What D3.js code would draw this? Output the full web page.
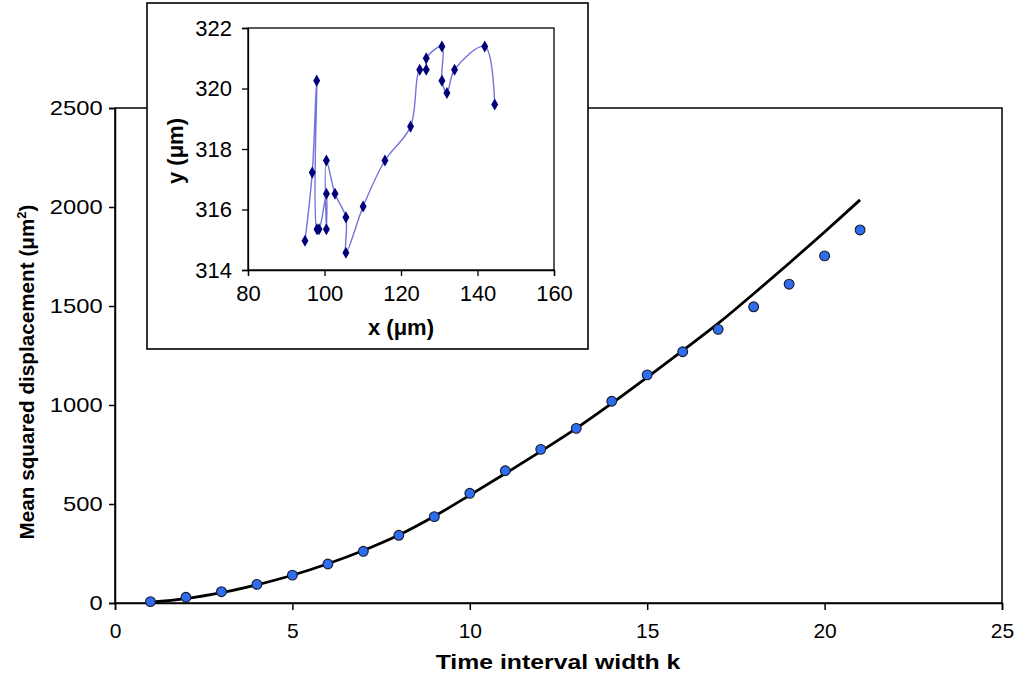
<!DOCTYPE html>
<html>
<head>
<meta charset="utf-8">
<script src="https://cdn.jsdelivr.net/npm/d3@7"></script>
<style>
html,body{margin:0;padding:0;background:#fff;}
svg{display:block;}
text{font-family:"Liberation Sans", Arial, sans-serif;fill:#000;}
</style>
</head>
<body>
<svg id="chart" width="1017" height="675"></svg>
<script>
// ---- Main chart data ----
const kValues = [1,2,3,4,5,6,7,8,9,10,11,12,13,14,15,16,17,18,19,20,21];
const msdObserved = [7,29,57,94,141,197,261,342,436,554,668,776,882,1019,1152,1269,1382,1496,1610,1753,1884];
const msdFit = [4,22,52,92,140,198,265,343,438,545,654,766,882,1008,1140,1275,1412,1562,1716,1874,2036];
const mainXTicks = [0,5,10,15,20,25];
const mainYTicks = [0,500,1000,1500,2000,2500];

// ---- Inset (trajectory) data ----
const trackX = [94.9,96.8,97.96,98.04,98.56,100.5,100.5,100.5,102.75,105.6,105.6,110.1,115.8,122.5,124.9,126.6,126.6,130.7,130.7,132.0,134.0,141.9,144.5];
const trackY = [314.97,317.22,320.26,315.35,315.35,316.52,315.35,317.62,316.52,315.74,314.57,316.1,317.62,318.74,320.62,320.62,321.0,321.39,320.26,319.85,320.62,321.39,319.47];
const insetXTicks = [80,100,120,140,160];
const insetYTicks = [314,316,318,320,322];

const svg = d3.select("#chart");

// ---------- Main plot ----------
const M = {left:115, right:1002, top:108, bottom:603};
const x = d3.scaleLinear().domain([0,25]).range([M.left, M.right]);
const y = d3.scaleLinear().domain([0,2500]).range([M.bottom, M.top]);

const main = svg.append("g");
main.append("rect").attr("x",M.left).attr("y",M.top)
  .attr("width",M.right-M.left).attr("height",M.bottom-M.top)
  .attr("fill","none").attr("stroke","#000").attr("stroke-width",1.5);

const xAxis = main.append("g").attr("transform",`translate(0,${M.bottom})`)
  .call(d3.axisBottom(x).tickValues(mainXTicks).tickSize(7).tickPadding(13).tickFormat(d3.format("d")));
const yAxis = main.append("g").attr("transform",`translate(${M.left},0)`)
  .call(d3.axisLeft(y).tickValues(mainYTicks).tickSize(6).tickPadding(5).tickFormat(d3.format("d")));
[xAxis,yAxis].forEach(a=>{
  a.attr("font-size",21).attr("font-family","Liberation Sans, Arial, sans-serif");
  a.select(".domain").attr("stroke","#000").attr("stroke-width",1.5);
  a.selectAll(".tick line").attr("stroke","#000").attr("stroke-width",1.5);
  a.selectAll(".tick text").attr("fill","#000");
});
yAxis.selectAll(".tick text").attr("transform","scale(1.13,1)");

// fit curve
const fitData = kValues.map((k,i)=>[k,msdFit[i]]);
main.append("path").datum(fitData)
  .attr("fill","none").attr("stroke","#000").attr("stroke-width",2.8)
  .attr("d", d3.line().x(d=>x(d[0])).y(d=>y(d[1])).curve(d3.curveCatmullRom.alpha(0.5)));

// observed points
main.selectAll("circle.obs").data(kValues).join("circle").attr("class","obs")
  .attr("cx",(k)=>x(k)).attr("cy",(k,i)=>y(msdObserved[i]))
  .attr("r",4.9).attr("fill","#2f6df0").attr("stroke","#1a1a2a").attr("stroke-width",1.1);

// axis titles
main.append("text").attr("x",0).attr("y",0).attr("text-anchor","middle")
  .attr("font-size",20).attr("font-weight","bold")
  .attr("transform","translate(558,669) scale(1.24,1)")
  .text("Time interval width k");
const yt = main.append("text").attr("transform","translate(34,372) rotate(-90)")
  .attr("text-anchor","middle").attr("font-size",20.7).attr("font-weight","bold");
yt.append("tspan").text("Mean squared displacement (μm");
yt.append("tspan").attr("font-size",13).attr("dy",-8).text("2");
yt.append("tspan").attr("dy",8).text(")");

// ---------- Inset ----------
const inset = svg.append("g");
inset.append("rect").attr("x",147).attr("y",3).attr("width",441).attr("height",346)
  .attr("fill","#fff").attr("stroke","#000").attr("stroke-width",1.6);

const I = {left:248, right:554, top:28, bottom:270};
const ix = d3.scaleLinear().domain([80,160]).range([I.left,I.right]);
const iy = d3.scaleLinear().domain([314,322]).range([I.bottom,I.top]);

inset.append("rect").attr("x",I.left).attr("y",I.top)
  .attr("width",I.right-I.left).attr("height",I.bottom-I.top)
  .attr("fill","none").attr("stroke","#000").attr("stroke-width",1.3);

const ixAxis = inset.append("g").attr("transform",`translate(0,${I.bottom})`)
  .call(d3.axisBottom(ix).tickValues(insetXTicks).tickSize(6).tickPadding(9).tickFormat(d3.format("d")));
const iyAxis = inset.append("g").attr("transform",`translate(${I.left},0)`)
  .call(d3.axisLeft(iy).tickValues(insetYTicks).tickSize(6).tickPadding(10).tickFormat(d3.format("d")));
[ixAxis,iyAxis].forEach(a=>{
  a.attr("font-size",22).attr("font-family","Liberation Sans, Arial, sans-serif");
  a.select(".domain").attr("stroke","#000").attr("stroke-width",1.3);
  a.selectAll(".tick line").attr("stroke","#000").attr("stroke-width",1.3);
  a.selectAll(".tick text").attr("fill","#000");
});

const track = trackX.map((v,i)=>[v,trackY[i]]);
inset.append("path").datum(track)
  .attr("fill","none").attr("stroke","#7373d9").attr("stroke-width",1.4)
  .attr("d", d3.line().x(d=>ix(d[0])).y(d=>iy(d[1])).curve(d3.curveCatmullRom.alpha(0.5)));

inset.selectAll("path.pt").data(track).join("path").attr("class","pt")
  .attr("transform",d=>`translate(${ix(d[0])},${iy(d[1])})`)
  .attr("d", d3.symbol().type(d3.symbolDiamond).size(42))
  .attr("fill","#00007a");

inset.append("text").attr("x",401).attr("y",335).attr("text-anchor","middle")
  .attr("font-size",22).attr("font-weight","bold").text("x (μm)");
inset.append("text").attr("transform","translate(183,151) rotate(-90)")
  .attr("text-anchor","middle").attr("font-size",22).attr("font-weight","bold").text("y (μm)");
</script>
</body>
</html>
